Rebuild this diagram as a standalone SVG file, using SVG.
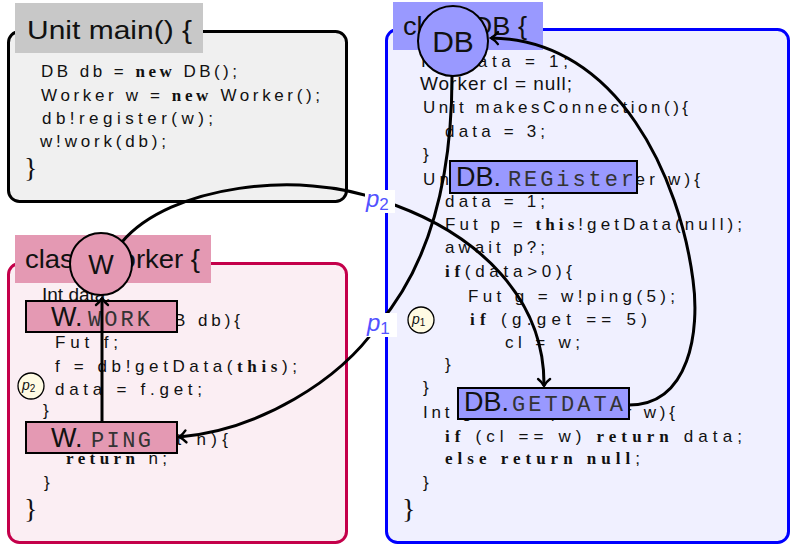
<svg xmlns="http://www.w3.org/2000/svg" width="791" height="545" viewBox="0 0 791 545">
<defs>
<style>
.code{font-family:"Liberation Sans",Arial,sans-serif;font-size:17px;fill:#111}
.kw{font-family:"Liberation Serif","Times New Roman",serif;font-weight:bold;font-size:17px}
.title{font-family:"Liberation Sans",Arial,sans-serif;font-size:26px;fill:#111}
.brace{font-family:"Liberation Serif",serif;font-size:28px;fill:#111}
.big{font-family:"Liberation Sans",Arial,sans-serif;font-size:27px;fill:#111}
.tt{font-family:"Liberation Mono","Courier New",monospace;font-size:22px;fill:#333}
.edge{fill:none;stroke:#000;stroke-width:3}
.node{stroke:#000;stroke-width:2}
.lbl{font-family:"Liberation Sans",Arial,sans-serif;font-style:italic;font-size:24px;fill:#5252ff}
.mk{fill:#fffbe3;stroke:#000;stroke-width:1.3}
.mkt{font-family:"Liberation Sans",Arial,sans-serif;font-style:italic;font-size:14px;fill:#111}
</style>
<marker id="arr" markerUnits="userSpaceOnUse" viewBox="-9 -8 12 16" markerWidth="12" markerHeight="16" refX="0" refY="0" orient="auto">
<path d="M -7,-6 C -4,-2 -1,-0.6 0,0 C -1,0.6 -4,2 -7,6" fill="none" stroke="#000" stroke-width="2.4" stroke-linecap="round"/>
</marker>
</defs>
<rect width="791" height="545" fill="#fff"/>

<g id="main">
<rect x="8.5" y="31.5" width="338" height="170" rx="11" fill="#f0f0f0" stroke="#000" stroke-width="3"/>
<rect x="15" y="3" width="188" height="50" fill="#c8c8c8"/>
<text class="title" x="27" y="39" textLength="165" lengthAdjust="spacingAndGlyphs">Unit main() {</text>
<text class="code" x="41" y="77" textLength="196">DB db = <tspan class="kw">new</tspan> DB();</text>
<text class="code" x="41" y="101" textLength="279">Worker w = <tspan class="kw">new</tspan> Worker();</text>
<text class="code" x="42" y="124" textLength="171">db!register(w);</text>
<text class="code" x="40" y="147" textLength="126">w!work(db);</text>
<text class="brace" x="24" y="177">}</text>
</g>

<g id="worker">
<rect x="8.5" y="263.5" width="338" height="279" rx="11" fill="#fbeef3" stroke="#c4004a" stroke-width="3"/>
<rect x="15" y="235" width="196" height="48" fill="#e499b3"/>
<text class="title" x="25" y="268" textLength="175" lengthAdjust="spacingAndGlyphs">class Worker {</text>
<text class="code" x="42" y="301" style="font-size:19px">Int data;</text>
<text class="code" x="42" y="326" textLength="198">Unit work(DB db){</text>
<text class="code" x="55" y="348" textLength="63">Fut f;</text>
<text class="code" x="55" y="372" textLength="242">f = db!getData(<tspan class="kw">this</tspan>);</text>
<text class="code" x="55" y="395" textLength="147">data = f.get;</text>
<text class="code" x="43" y="416">}</text>
<text class="code" x="42" y="445" textLength="186">Int ping(Int n){</text>
<text class="code" x="66" y="464" textLength="101"><tspan class="kw">return</tspan> n;</text>
<text class="code" x="44" y="488">}</text>
<text class="brace" x="24" y="518">}</text>
</g>

<g id="db">
<rect x="386.5" y="29.5" width="402" height="513" rx="11" fill="#f0f0ff" stroke="#0000ff" stroke-width="3"/>
<rect x="393" y="2" width="150" height="48" fill="#9999ff"/>
<text class="title" x="403" y="35" textLength="124" lengthAdjust="spacingAndGlyphs">class DB {</text>
<text class="code" x="421" y="67" textLength="147">Int data = 1;</text>
<text class="code" x="420" y="90" textLength="152" style="font-size:19px">Worker cl = null;</text>
<text class="code" x="423" y="113" textLength="265">Unit makesConnection(){</text>
<text class="code" x="445" y="137" textLength="100">data = 3;</text>
<text class="code" x="423" y="160">}</text>
<text class="code" x="423" y="185" textLength="277">Unit register(Worker w){</text>
<text class="code" x="445" y="207" textLength="100">data = 1;</text>
<text class="code" x="445" y="230" textLength="297">Fut p = <tspan class="kw">this</tspan>!getData(null);</text>
<text class="code" x="445" y="253" textLength="100">await p?;</text>
<text class="code" x="445" y="277" textLength="127"><tspan class="kw">if</tspan>(data&gt;0){</text>
<text class="code" x="468" y="302" textLength="207">Fut g = w!ping(5);</text>
<text class="code" x="470" y="325" textLength="177"><tspan class="kw">if</tspan> (g.get == 5)</text>
<text class="code" x="505" y="348" textLength="75">cl = w;</text>
<text class="code" x="445" y="370">}</text>
<text class="code" x="423" y="393">}</text>
<text class="code" x="423" y="418" textLength="252">Int getData(Worker w){</text>
<text class="code" x="445" y="442" textLength="297"><tspan class="kw">if</tspan> (cl == w) <tspan class="kw">return</tspan> data;</text>
<text class="code" x="445" y="464" textLength="195"><tspan class="kw">else return null</tspan>;</text>
<text class="code" x="423" y="488">}</text>
<text class="brace" x="402" y="518">}</text>
</g>

<g id="w-work">
<rect class="node" x="26" y="301" width="151" height="31" fill="#e499b3"/>
<text class="big" x="51" y="326">W.</text>
<text class="tt" x="88" y="326" textLength="62">WORK</text>
</g>
<g id="w-ping">
<rect class="node" x="26" y="422" width="151" height="31" fill="#e499b3"/>
<text class="big" x="51" y="447">W.</text>
<text class="tt" x="91" y="447" textLength="60">PING</text>
</g>
<g id="db-register">
<rect class="node" x="450" y="161" width="187" height="32" fill="#9999ff"/>
<text class="big" x="456" y="186">DB.</text>
<text class="tt" x="508" y="186" textLength="126">REGister</text>
</g>
<g id="db-getdata">
<rect class="node" x="458" y="388" width="171" height="31" fill="#9999ff"/>
<text class="big" x="464" y="411">DB.</text>
<text class="tt" x="512" y="411" textLength="111">GETDATA</text>
</g>
<g id="db-circle">
<circle class="node" cx="453" cy="41" r="35" fill="#9999ff"/>
<text class="big" x="453" y="52" text-anchor="middle" style="font-size:30px">DB</text>
</g>
<g id="w-circle">
<circle class="node" cx="101" cy="264" r="31" fill="#e499b3"/>
<text class="big" x="101" y="274" text-anchor="middle">W</text>
</g>

<g id="connectors">
<path class="edge" d="M 629,405 C 690,405 700,330 693,280 C 680,180 620,40 491,38" marker-end="url(#arr)"/>
<path class="edge" d="M 452,76 C 452,190 425,270 378,325 C 340,380 260,430 179,437" marker-end="url(#arr)"/>
<path class="edge" d="M 122,242 C 170,185 300,170 380,200 C 480,232 545,300 544,386" marker-end="url(#arr)"/>
<path class="edge" d="M 102,422 L 102,298" marker-end="url(#arr)"/>
<rect x="365" y="313" width="32" height="24" fill="#fff"/>
<text class="lbl" x="367" y="331">p<tspan font-size="17" font-style="normal" dy="3">1</tspan></text>
<rect x="365" y="190" width="30" height="23" fill="#fff"/>
<text class="lbl" x="366" y="207">p<tspan font-size="17" font-style="normal" dy="3">2</tspan></text>
</g>

<g id="p1-mark">
<circle class="mk" cx="421" cy="320" r="13"/>
<text class="mkt" x="412" y="324">p<tspan font-size="10" font-style="normal" dy="2">1</tspan></text>
</g>
<g id="p2-mark">
<circle class="mk" cx="31" cy="386" r="13"/>
<text class="mkt" x="22" y="390">p<tspan font-size="10" font-style="normal" dy="2">2</tspan></text>
</g>
</svg>
